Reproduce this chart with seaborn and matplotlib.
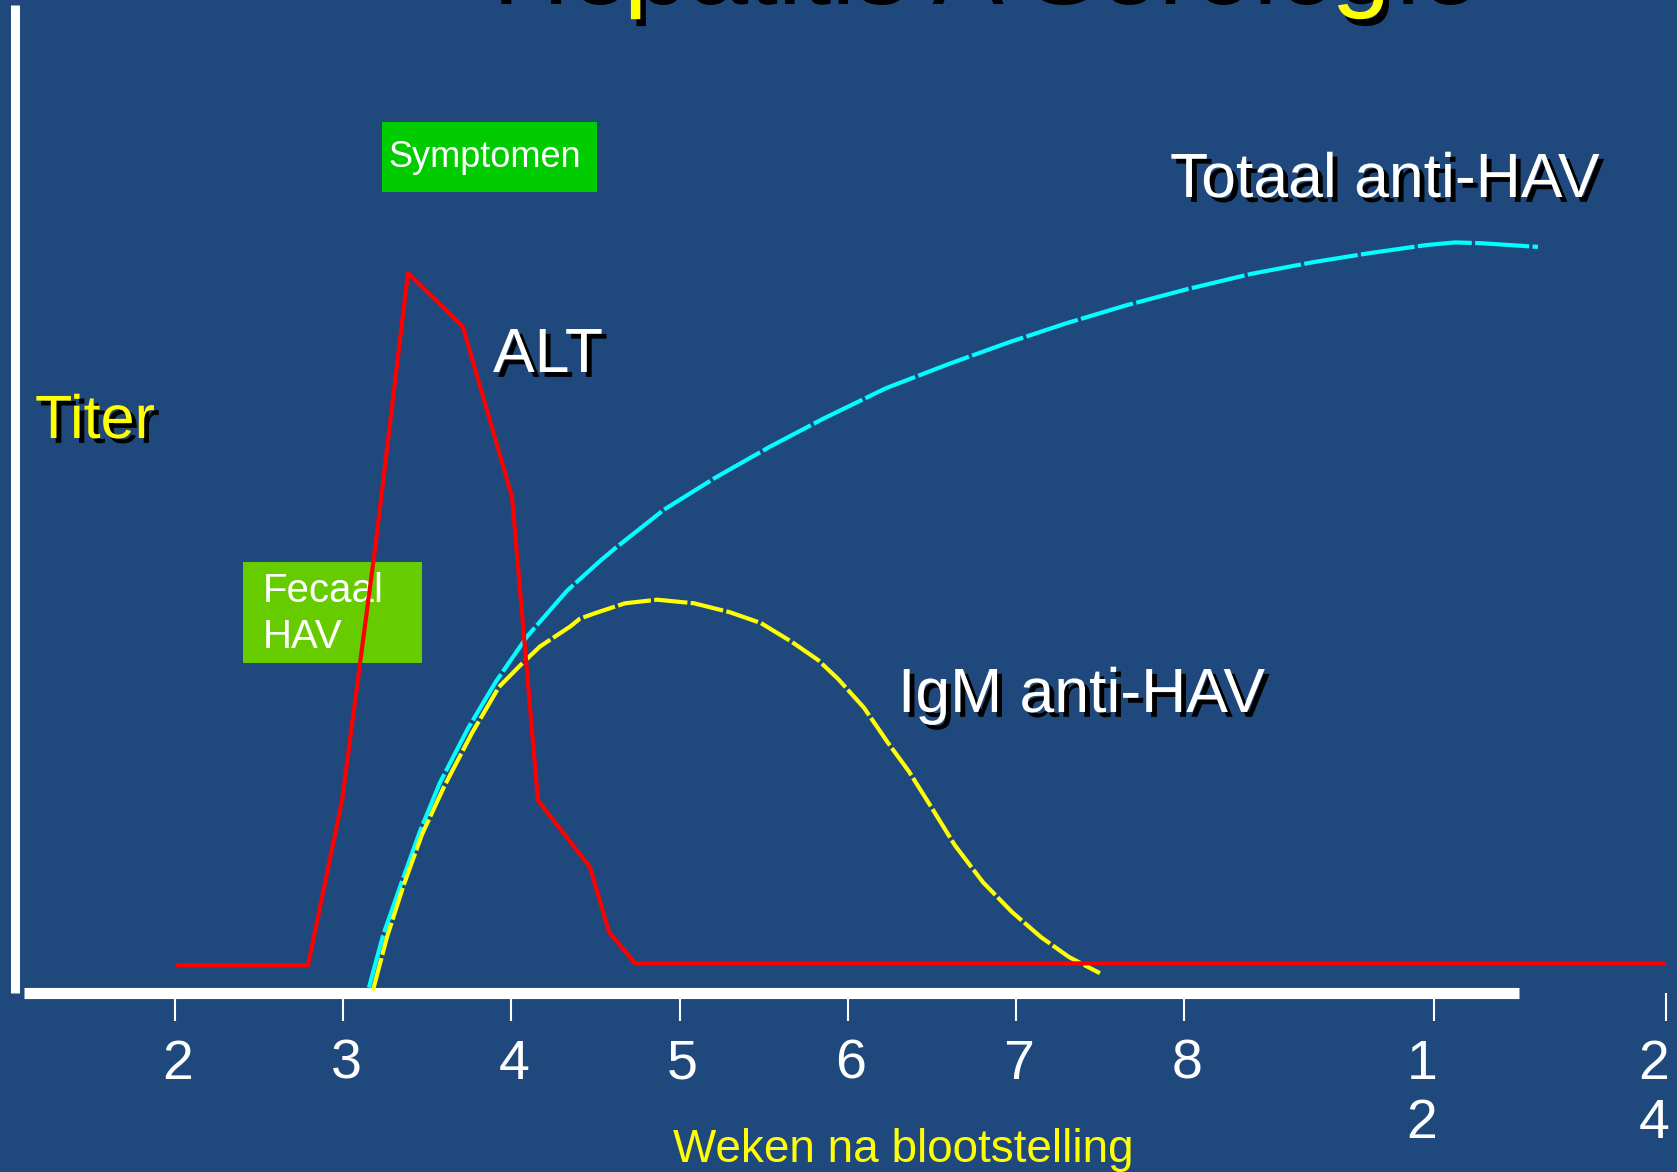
import matplotlib
matplotlib.use("Agg")
import matplotlib.pyplot as plt
import matplotlib.patheffects as pe
import matplotlib.transforms as mtransforms
from matplotlib.patches import Rectangle
import seaborn as sns

# x axis: weeks after exposure (2..8 evenly spaced, then 12 and 24 squeezed in)
tick_pos = [2, 3, 4, 5, 6, 7, 8, 9.485, 10.865]
tick_labels = ["2", "3", "4", "5", "6", "7", "8", "1\n2", "2\n4"]

# ALT (red)
alt_x = [2.012, 2.791, 2.993, 3.189, 3.385, 3.712, 4.004, 4.158, 4.467, 4.580, 4.735, 10.853]
alt_y = [3.1, 3.1, 21.4, 49.3, 80.0, 74.0, 55.1, 21.4, 14.0, 6.8, 3.3, 3.3]

# Totaal anti-HAV (cyan)
total_x = [3.153, 3.237, 3.338, 3.457, 3.576, 3.742, 3.908, 4.093, 4.331, 4.527, 4.616,
           4.907, 5.216, 5.537, 5.853, 6.227, 6.602, 6.958, 7.297, 7.654, 8.017,
           8.397, 8.766, 9.099, 9.438, 9.610, 9.776, 10.103]
total_y = [0.6, 6.4, 11.8, 18.0, 23.4, 29.4, 34.6, 39.6, 44.7, 48.0, 49.4,
           53.7, 57.3, 60.7, 63.8, 67.2, 69.9, 72.3, 74.4, 76.4, 78.2,
           79.9, 81.2, 82.2, 83.1, 83.4, 83.3, 82.9]

# IgM anti-HAV (yellow)
igm_x = [3.177, 3.260, 3.356, 3.468, 3.599, 3.766, 3.926, 4.063, 4.170, 4.348,
         4.408, 4.497, 4.675, 4.866, 5.086, 5.300, 5.484, 5.668, 5.823, 5.942,
         6.096, 6.239, 6.364, 6.495, 6.637, 6.804, 6.976, 7.149, 7.315, 7.499]
igm_y = [0.3, 6.2, 11.8, 17.6, 22.9, 28.9, 34.0, 36.6, 38.5, 40.7,
         41.6, 42.2, 43.3, 43.7, 43.3, 42.3, 41.1, 39.0, 37.0, 34.9,
         31.7, 27.8, 24.6, 20.7, 16.4, 12.3, 9.0, 6.2, 4.0, 2.2]

W, H = 1677, 1172
BG = "#1F497D"
X0, PXW = 175, 168.2   # pixel of week 2, pixels per week
Y0, PXT = 993, 9.0     # pixel of titer 0, pixels per titer unit

sns.set_style("white", {"axes.facecolor": BG, "figure.facecolor": BG})
plt.rcParams["font.family"] = ["Liberation Sans", "DejaVu Sans"]

fig = plt.figure(figsize=(W / 100, H / 100), dpi=100)
ax = fig.add_axes([0, 0, 1, 1])
ax.set_facecolor(BG)


def wx(px):
    return 2 + (px - X0) / PXW


def ty(py):
    return (Y0 - py) / PXT


def fx(px):
    return px / W


def fy(py):
    return 1 - py / H


# coloured period boxes (under the curves)
ax.add_patch(Rectangle((fx(382), fy(192)), (597 - 382) / W, (192 - 122) / H,
                       transform=ax.transAxes, facecolor="#00CC00",
                       edgecolor="none", lw=0, zorder=1))
ax.text(fx(388), fy(167), "Symptomen", transform=ax.transAxes, color="white",
        fontsize=26, va="baseline", ha="left", zorder=2)
ax.add_patch(Rectangle((fx(243), fy(663)), (422 - 243) / W, (663 - 562) / H,
                       transform=ax.transAxes, facecolor="#66CC00",
                       edgecolor="none", lw=0, zorder=1))
ax.text(fx(263), fy(602), "Fecaal", transform=ax.transAxes, color="white",
        fontsize=29, va="baseline", ha="left", zorder=2)
ax.text(fx(263), fy(648), "HAV", transform=ax.transAxes, color="white",
        fontsize=29, va="baseline", ha="left", zorder=2)

sns.lineplot(x=total_x, y=total_y, ax=ax, color="#00FFFF", lw=3,
             linestyle=(0, (13, 0.8)), zorder=3)
sns.lineplot(x=igm_x, y=igm_y, ax=ax, color="#FFFF00", lw=3,
             linestyle=(0, (8, 0.8)), zorder=3)
sns.lineplot(x=alt_x, y=alt_y, ax=ax, color="#FF0000", lw=3, zorder=4)

ax.set_xlim(wx(0), wx(W))
ax.set_ylim(ty(H), ty(0))

# axes drawn as thick white bars
for s in ["top", "right"]:
    ax.spines[s].set_visible(False)
ax.spines["left"].set_position(("data", wx(15)))
ax.spines["left"].set_bounds(0, ty(5))
ax.spines["left"].set_linewidth(6.5)
ax.spines["left"].set_color("white")
ax.spines["left"].set_capstyle("butt")
ax.spines["bottom"].set_position(("data", 0))
ax.spines["bottom"].set_bounds(wx(24), wx(1519))
ax.spines["bottom"].set_linewidth(8)
ax.spines["bottom"].set_color("white")
ax.spines["bottom"].set_capstyle("butt")

ax.set_yticks([])
ax.set_xticks(tick_pos, tick_labels)
ax.tick_params(axis="x", bottom=True, direction="out", length=20, width=1.5,
               color="white", labelcolor="white", labelsize=40, pad=13)
ax.set_xlabel("")
ax.set_ylabel("")
for i, t in enumerate(ax.xaxis.get_major_ticks()):
    dx = -12 if i >= 7 else 3
    t.label1.set_linespacing(1.17)
    t.label1.set_transform(t.label1.get_transform()
                           + mtransforms.ScaledTranslation(dx / 100, 0, fig.dpi_scale_trans))

shadow = [pe.SimplePatchShadow(offset=(3.5, -3.5), shadow_rgbFace="black", alpha=1.0),
          pe.Normal()]
title_shadow = [pe.SimplePatchShadow(offset=(4, -5), shadow_rgbFace="black", alpha=1.0),
                pe.Normal()]

fig.text(fx(487), fy(-3), "Hepatitis A Serologie", color="#FFFF00", fontsize=77,
         va="baseline", ha="left", path_effects=title_shadow)
fig.text(fx(35), fy(438), "Titer", color="#FFFF00", fontsize=44,
         va="baseline", ha="left", path_effects=shadow)
fig.text(fx(493), fy(372), "ALT", color="white", fontsize=45,
         va="baseline", ha="left", path_effects=shadow)
fig.text(fx(1170), fy(197), "Totaal anti-HAV", color="white", fontsize=45,
         va="baseline", ha="left", path_effects=shadow)
fig.text(fx(898), fy(712), "IgM anti-HAV", color="white", fontsize=45,
         va="baseline", ha="left", path_effects=shadow)
fig.text(fx(903), fy(1162), "Weken na blootstelling", color="#FFFF00", fontsize=33,
         va="baseline", ha="center")

fig.savefig("out.png", dpi=100, facecolor=BG)
plt.close(fig)
